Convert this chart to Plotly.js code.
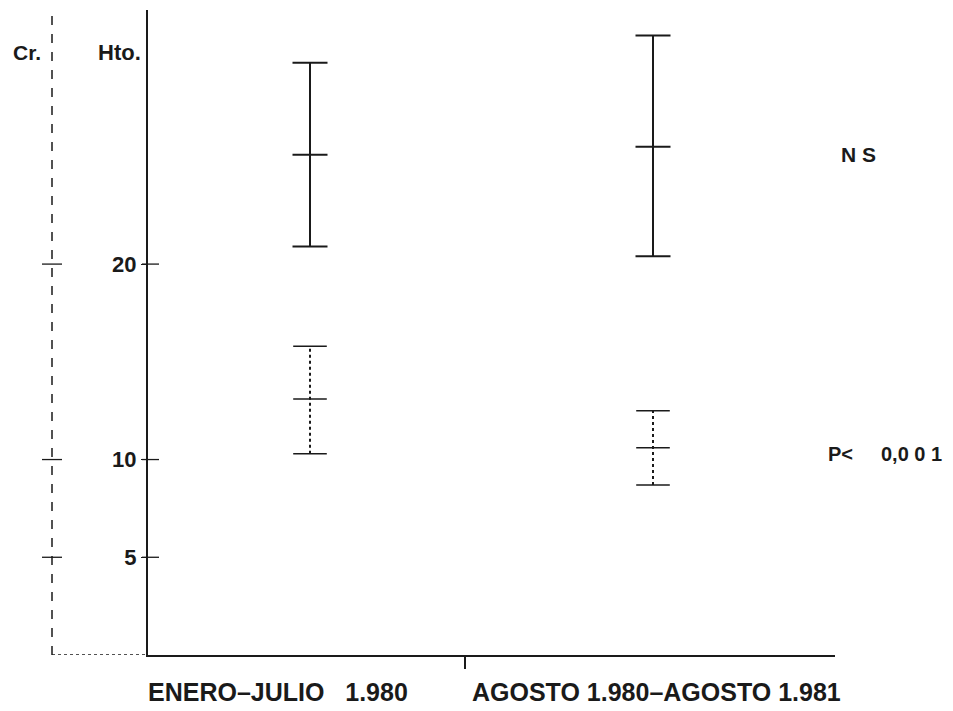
<!DOCTYPE html>
<html>
<head>
<meta charset="utf-8">
<script src="https://cdn.plot.ly/plotly-3.0.1.min.js"></script>
<style>html,body{margin:0;padding:0;background:#fff;}#chart{width:953px;height:711px;}</style>
</head>
<body>
<div id="chart"></div>
<script>
// ---- data ----
const periods = [1, 2];
const periodLabels = ["ENERO\u2013JULIO\u00a0\u00a0\u00a01.980", "AGOSTO 1.980\u2013AGOSTO 1.981"];
const htoMean = [25.6, 26.0];
const htoHigh = [30.3, 31.7];
const htoLow  = [20.9, 20.4];
const crMean  = [13.1, 10.6];
const crHigh  = [15.8, 12.5];
const crLow   = [10.3, 8.7];
const yTickVals = [5, 10, 20];
const yTickText = ["5", "10", "20"];
const sigLabels = ["N S", "P<", "0,0\u00a00\u00a01"];

// ---- helpers ----
const L = 52, R = 835, T = 10, B = 655, W = 953, H = 711;
const px = X => (X - L) / (R - L);
const py = Y => (B - Y) / (B - T);
const ink = "#1a1a1a";

function rangeLine(lo, hi) {
  const x = [], y = [];
  periods.forEach((p, i) => { x.push(p, p, null); y.push(lo[i], hi[i], null); });
  return {x, y};
}
function caps(lo, mid, hi) {
  const x = [], y = [];
  periods.forEach((p, i) => { x.push(p, p, p); y.push(lo[i], mid[i], hi[i]); });
  return {x, y};
}

const htoR = rangeLine(htoLow, htoHigh);
const htoC = caps(htoLow, htoMean, htoHigh);
const crR = rangeLine(crLow, crHigh);
const crC = caps(crLow, crMean, crHigh);

const traces = [
  {x: htoR.x, y: htoR.y, mode: "lines", line: {color: ink, width: 2}, hoverinfo: "skip", showlegend: false},
  {x: htoC.x, y: htoC.y, mode: "markers", marker: {symbol: "line-ew", size: 25, line: {color: ink, width: 2}}, showlegend: false},
  {x: crR.x, y: crR.y, mode: "lines", line: {color: ink, width: 2, dash: "dot"}, hoverinfo: "skip", showlegend: false},
  {x: crC.x, y: crC.y, mode: "markers", marker: {symbol: "line-ew", size: 24, line: {color: ink, width: 1.6}}, showlegend: false}
];

const shapes = [
  // left (Cr.) dashed axis
  {type: "line", xref: "paper", yref: "paper", x0: 0, x1: 0, y0: 0, y1: 1, line: {color: ink, width: 1.5, dash: "dash"}},
  // dotted base segment between the two axes
  {type: "line", xref: "paper", yref: "y", x0: 0, x1: px(148), y0: 0, y1: 0, line: {color: ink, width: 1.5, dash: "dot"}}
];
yTickVals.forEach(v => {
  shapes.push({type: "line", xref: "paper", yref: "y", x0: px(142), x1: px(159), y0: v, y1: v, line: {color: ink, width: 1.3}});
  shapes.push({type: "line", xref: "paper", yref: "y", x0: px(42), x1: px(62), y0: v, y1: v, line: {color: ink, width: 1.3}});
});

const bold = (s) => "<b>" + s + "</b>";
const font = (size) => ({family: "Liberation Sans, Arial, sans-serif", size: size, color: ink});
const annotations = [
  {text: bold("Cr."), xref: "paper", yref: "paper", x: px(27), y: py(53), showarrow: false, font: font(21), xanchor: "center", yanchor: "middle"},
  {text: bold("Hto."), xref: "paper", yref: "paper", x: px(119), y: py(53), showarrow: false, font: font(22), xanchor: "center", yanchor: "middle"},
  {text: bold(sigLabels[0]), xref: "paper", yref: "paper", x: px(858), y: py(155), showarrow: false, font: font(21), xanchor: "center", yanchor: "middle"},
  {text: bold(sigLabels[1]), xref: "paper", yref: "paper", x: px(826), y: py(454), showarrow: false, font: font(20), xanchor: "left", yanchor: "middle"},
  {text: bold(sigLabels[2]), xref: "paper", yref: "paper", x: px(879), y: py(454), showarrow: false, font: font(20), xanchor: "left", yanchor: "middle"},
  {text: bold(periodLabels[0]), xref: "paper", yref: "paper", x: px(146), y: py(692), showarrow: false, font: font(25), xanchor: "left", yanchor: "middle"},
  {text: bold(periodLabels[1]), xref: "paper", yref: "paper", x: px(470), y: py(692), showarrow: false, font: font(25), xanchor: "left", yanchor: "middle"}
];

const layout = {
  width: W, height: H,
  margin: {l: L, r: W - R, t: T, b: H - B, pad: 0},
  paper_bgcolor: "#fff", plot_bgcolor: "#fff",
  showlegend: false,
  xaxis: {
    domain: [px(148), 1], range: [0.5277, 2.5306],
    showgrid: false, zeroline: false, showline: true, linecolor: ink, linewidth: 1.5,
    tickmode: "array", tickvals: [1.452], ticks: "outside", ticklen: 12, tickwidth: 2, tickcolor: ink,
    showticklabels: false, fixedrange: true
  },
  yaxis: {
    range: [0, 33], showgrid: false, zeroline: false,
    showline: true, linecolor: ink, linewidth: 2, anchor: "x",
    tickmode: "array", tickvals: yTickVals, ticktext: yTickText.map(bold), ticks: "outside", ticklen: 5, tickcolor: ink,
    tickfont: font(22), fixedrange: true
  },
  shapes: shapes,
  annotations: annotations
};

Plotly.newPlot("chart", traces, layout, {displayModeBar: false, staticPlot: true});
</script>
</body>
</html>
